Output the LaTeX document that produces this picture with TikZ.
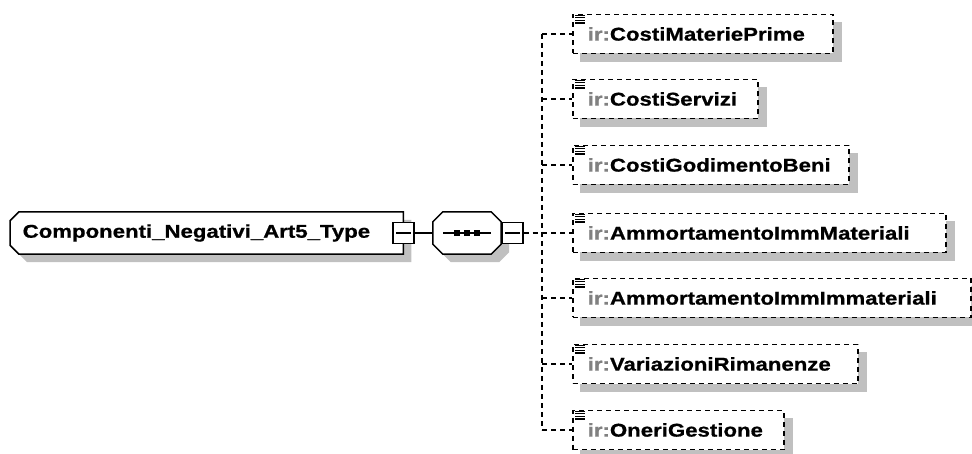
\documentclass[tikz,border=0pt]{standalone}
\usepackage{fontspec}
\usetikzlibrary{positioning,calc,backgrounds}
\newfontfamily\schemafont[FakeStretch=1.2, FakeBold=0.8]{Liberation Sans}
\definecolor{schemaShadow}{RGB}{192,192,192}
\definecolor{schemaPrefix}{RGB}{128,128,128}

\begin{document}
\begin{tikzpicture}[x=1pt, y=-1pt,
    schematext/.style={font=\schemafont\bfseries\fontsize{18.5}{20}\selectfont},
    typebox/.style={schematext, anchor=west, minimum height=42pt, inner xsep=12.5pt, inner ysep=0pt, align=left},
    elembox/.style={schematext, draw, fill=white, line width=1.5pt, dash pattern=on 5pt off 4pt,
                    anchor=west, minimum height=39pt, inner xsep=15pt, inner ysep=0pt, align=left},
    minusbox/.style={draw, fill=white, line width=1.5pt, minimum size=21pt, inner sep=0pt},
    conn/.style={line width=1.5pt},
    dashconn/.style={line width=1.5pt, dash pattern=on 5pt off 4pt},
    shadowfill/.style={fill=schemaShadow, transform canvas={shift={(8pt,-8pt)}}}]

  \useasboundingbox (0,0) rectangle (972,454);

  % complex type
  \node[typebox, text width=368pt] (type) at (10,233) {Componenti\_Negativi\_Art5\_Type};
  \begin{scope}[on background layer]
    \fill[shadowfill] ($(type.north west)+(9,0)$) -- (type.north east) -- (type.south east)
      -- ($(type.south west)+(9,0)$) -- ($(type.south west)+(0,-9)$) -- ($(type.north west)+(0,9)$) -- cycle;
    \draw[conn, fill=white] ($(type.north west)+(9,0)$) -- (type.north east) -- (type.south east)
      -- ($(type.south west)+(9,0)$) -- ($(type.south west)+(0,-9)$) -- ($(type.north west)+(0,9)$) -- cycle;
  \end{scope}
  \node[minusbox] (typeminus) at (type.east) {};
  \draw[conn] ([xshift=4pt]typeminus.west) -- ([xshift=-4pt]typeminus.east);

  % sequence
  \node[minimum width=68pt, minimum height=42pt, inner sep=0pt] (seq) at (467,233) {};
  \begin{scope}[on background layer]
    \fill[shadowfill] ($(seq.north west)+(10,0)$) -- ($(seq.north east)+(-10,0)$) -- ($(seq.north east)+(0,10)$)
      -- ($(seq.south east)+(0,-10)$) -- ($(seq.south east)+(-10,0)$) -- ($(seq.south west)+(10,0)$)
      -- ($(seq.south west)+(0,-10)$) -- ($(seq.north west)+(0,10)$) -- cycle;
    \draw[conn, fill=white] ($(seq.north west)+(10,0)$) -- ($(seq.north east)+(-10,0)$) -- ($(seq.north east)+(0,10)$)
      -- ($(seq.south east)+(0,-10)$) -- ($(seq.south east)+(-10,0)$) -- ($(seq.south west)+(10,0)$)
      -- ($(seq.south west)+(0,-10)$) -- ($(seq.north west)+(0,10)$) -- cycle;
  \end{scope}
  \draw[conn] ([xshift=-24pt]seq.center) -- ([xshift=24pt]seq.center);
  \foreach \dx in {-10,0,10}
    \fill ([xshift=\dx pt]seq.center) +(-3,-3) rectangle +(3,3);
  \node[minusbox, right=0pt of seq] (seqminus) {};
  \draw[conn] ([xshift=4pt]seqminus.west) -- ([xshift=-4pt]seqminus.east);
  \draw[conn] (typeminus.east) -- (seq.west);

  % child elements
  \coordinate (bus) at (542,233);
  \draw[dashconn] (seqminus.east) -- (bus);
  \foreach \i/\yc/\xr/\nm in {1/34/832/CostiMateriePrime, 2/99/757/CostiServizi,
      3/165/848/CostiGodimentoBeni, 4/233/945/AmmortamentoImmMateriali,
      5/298/970/AmmortamentoImmImmateriali, 6/364/857/VariazioniRimanenze,
      7/430/783/OneriGestione} {
    \pgfmathsetmacro\tw{\xr-602}
    \node[elembox, text width=\tw pt] (c\i) at (572,\yc) {\mbox{\textcolor{schemaPrefix}{ir:}\nm}};
    \begin{scope}[on background layer]
      \fill[shadowfill] (c\i.north west) rectangle (c\i.south east);
    \end{scope}
    \foreach \k in {0,...,3}
      \draw[line width=1.2pt] ($(c\i.north west)+(3,{1.5+2.6*\k})$) -- ++(10,0);
    \draw[dashconn] (bus |- c\i.west) -- (c\i.west);
  }
  \draw[dashconn] (bus |- c1.west) -- (bus |- c7.west);
\end{tikzpicture}
\end{document}
